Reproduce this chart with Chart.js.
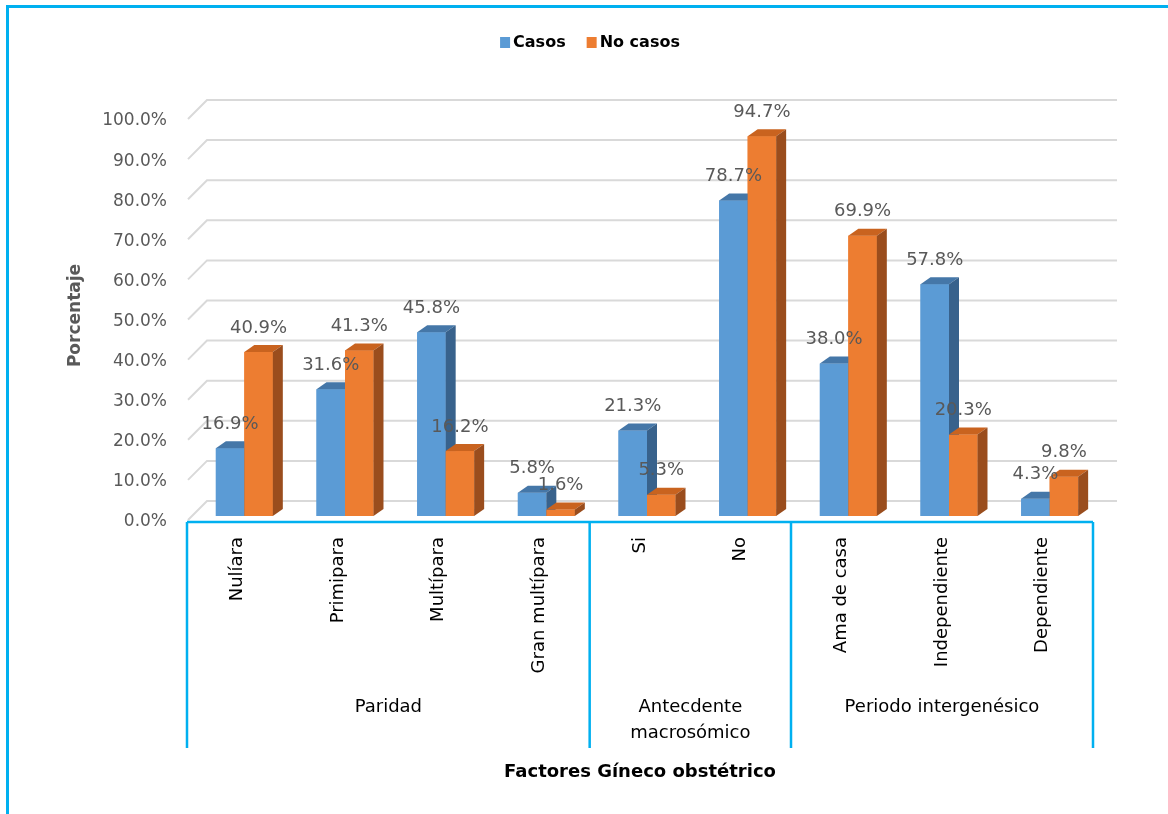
<!DOCTYPE html>
<html>
<head>
<meta charset="utf-8">
<script src="https://cdn.jsdelivr.net/npm/chart.js@4.4.1/dist/chart.umd.min.js"></script>
<style>
  body { margin: 0; background: #fff; }
  canvas { display: block; }
</style>
</head>
<body>
<canvas id="factorsChart" width="1168" height="814"></canvas>
<script>
// categories and values
const categories = ['Nulíara', 'Primipara', 'Multípara', 'Gran multípara', 'Si', 'No', 'Ama de casa', 'Independiente', 'Dependiente'];
const groupNames = [['Paridad'], ['Antecdente', 'macrosómico'], ['Periodo intergenésico']];
const groupSizes = [4, 2, 3];
const casos = [16.9, 31.6, 45.8, 5.8, 21.3, 78.7, 38.0, 57.8, 4.3];
const noCasos = [40.9, 41.3, 16.2, 1.6, 5.3, 94.7, 69.9, 20.3, 9.8];
const yMin = 0, yMax = 100, yStep = 10;

const FONT = "'DejaVu Sans', sans-serif";
const CYAN = '#00b0f0';
const GRID = '#d9d9d9';
const DX = 10, DY = 7;      // bar depth
const SHIFT = 7;            // bars sit a bit right of the axis boxes
const faces = [
  { front: '#5b9bd5', top: '#4577a8', side: '#38628c' },
  { front: '#ed7d31', top: '#c9631f', side: '#9a4d1d' }
];

// back wall + floor lines
const wallPlugin = {
  id: 'wall',
  beforeDatasetsDraw(chart) {
    const { ctx, chartArea, scales: { y } } = chart;
    ctx.save();
    ctx.strokeStyle = GRID;
    ctx.lineWidth = 2;
    y.ticks.forEach(t => {
      const p = y.getPixelForValue(t.value);
      ctx.beginPath();
      ctx.moveTo(chartArea.left - 6, p + 4);
      ctx.lineTo(chartArea.left + 13, p - 15);
      ctx.lineTo(chartArea.right + 17, p - 15);
      ctx.stroke();
    });
    ctx.restore();
  }
};

// 3d bars: front, top and side drawn per category, left bar first
const barsPlugin = {
  id: 'bars3d',
  afterDatasetsDraw(chart) {
    const { ctx } = chart;
    ctx.save();
    categories.forEach((c, i) => {
      chart.data.datasets.forEach((ds, d) => {
        const bar = chart.getDatasetMeta(d).data[i];
        const f = faces[d];
        const x0 = bar.x - bar.width / 2, x1 = bar.x + bar.width / 2;
        const top = bar.y, base = bar.base;
        ctx.fillStyle = f.front;
        ctx.fillRect(x0, top, x1 - x0, base - top);
        ctx.fillStyle = f.top;
        ctx.beginPath();
        ctx.moveTo(x0, top);
        ctx.lineTo(x0 + DX, top - DY);
        ctx.lineTo(x1 + DX, top - DY);
        ctx.lineTo(x1, top);
        ctx.closePath();
        ctx.fill();
        ctx.fillStyle = f.side;
        ctx.beginPath();
        ctx.moveTo(x1, top);
        ctx.lineTo(x1 + DX, top - DY);
        ctx.lineTo(x1 + DX, base - DY);
        ctx.lineTo(x1, base);
        ctx.closePath();
        ctx.fill();
      });
    });
    // value labels
    ctx.font = '18px ' + FONT;
    ctx.fillStyle = '#595959';
    ctx.textAlign = 'center';
    ctx.textBaseline = 'middle';
    chart.data.datasets.forEach((ds, d) => {
      chart.getDatasetMeta(d).data.forEach((bar, i) => {
        ctx.fillText(ds.data[i].toFixed(1) + '%', bar.x, bar.y - 24);
      });
    });
    ctx.restore();
  }
};

// category boxes, labels, legend and frame
const axisPlugin = {
  id: 'catAxis',
  afterDraw(chart) {
    const { ctx, scales: { x, y } } = chart;
    const half = (x.getPixelForValue(1) - x.getPixelForValue(0)) / 2;
    const lineY = y.getPixelForValue(0) + 6;
    const bottomY = 748;
    ctx.save();

    // frame
    ctx.strokeStyle = CYAN;
    ctx.lineWidth = 3;
    ctx.beginPath();
    ctx.moveTo(7.5, 814);
    ctx.lineTo(7.5, 6.5);
    ctx.lineTo(1168, 6.5);
    ctx.stroke();

    // boxes
    ctx.lineWidth = 2.5;
    const left = x.getPixelForValue(0) - half - SHIFT;
    const right = x.getPixelForValue(categories.length - 1) + half - SHIFT;
    ctx.beginPath();
    ctx.moveTo(left, lineY);
    ctx.lineTo(right, lineY);
    let idx = 0;
    const bounds = [left];
    groupSizes.forEach(n => {
      idx += n;
      bounds.push(x.getPixelForValue(idx - 1) + half - SHIFT);
    });
    bounds.forEach(b => {
      ctx.moveTo(b, lineY);
      ctx.lineTo(b, bottomY);
    });
    ctx.stroke();

    // rotated category names
    ctx.fillStyle = '#000';
    ctx.font = '18px ' + FONT;
    ctx.textAlign = 'right';
    ctx.textBaseline = 'middle';
    categories.forEach((c, i) => {
      ctx.save();
      ctx.translate(x.getPixelForValue(i) - SHIFT, lineY + 15);
      ctx.rotate(-Math.PI / 2);
      ctx.fillText(c, 0, 0);
      ctx.restore();
    });

    // group names
    ctx.textAlign = 'center';
    groupNames.forEach((lines, g) => {
      const cx = (bounds[g] + bounds[g + 1]) / 2;
      lines.forEach((ln, k) => ctx.fillText(ln, cx, 707 + k * 26));
    });

    // x title
    ctx.font = 'bold 18px ' + FONT;
    ctx.fillText('Factores Gíneco obstétrico', (left + right) / 2, 772);

    // legend
    ctx.font = 'bold 16px ' + FONT;
    ctx.textAlign = 'left';
    const items = chart.data.datasets.map(ds => ({ label: ds.label, w: 13 + ctx.measureText(ds.label).width }));
    const total = items.reduce((s, it) => s + it.w, 0) + 21 * (items.length - 1);
    let lx = 590 - total / 2;
    items.forEach((it, d) => {
      ctx.fillStyle = faces[d].front;
      ctx.fillRect(lx, 37, 10, 11);
      ctx.fillStyle = '#000';
      ctx.fillText(it.label, lx + 13, 43);
      lx += it.w + 21;
    });
    ctx.restore();
  }
};

new Chart(document.getElementById('factorsChart'), {
  type: 'bar',
  data: {
    labels: categories,
    datasets: [
      { label: 'Casos', data: casos, backgroundColor: faces[0].front, borderWidth: 0 },
      { label: 'No casos', data: noCasos, backgroundColor: faces[1].front, borderWidth: 0 }
    ]
  },
  options: {
    responsive: false,
    animation: false,
    layout: { padding: { left: 0, right: 68, top: 115, bottom: 298 } },
    categoryPercentage: 0.566,
    barPercentage: 1,
    plugins: {
      legend: { display: false },
      tooltip: { enabled: false }
    },
    scales: {
      x: { display: false },
      y: {
        min: yMin,
        max: yMax,
        afterFit(scale) { scale.width = 194; },
        grid: { display: false, drawTicks: false },
        border: { display: false },
        ticks: {
          stepSize: yStep,
          padding: 27,
          labelOffset: 6,
          color: '#595959',
          font: { family: FONT, size: 17 },
          callback: v => v.toFixed(1) + '%'
        },
        title: {
          display: true,
          text: 'Porcentaje',
          color: '#595959',
          font: { family: FONT, size: 17, weight: 'bold' },
          padding: { top: 65, bottom: 0 }
        }
      }
    }
  },
  plugins: [wallPlugin, barsPlugin, axisPlugin]
});
</script>
</body>
</html>
